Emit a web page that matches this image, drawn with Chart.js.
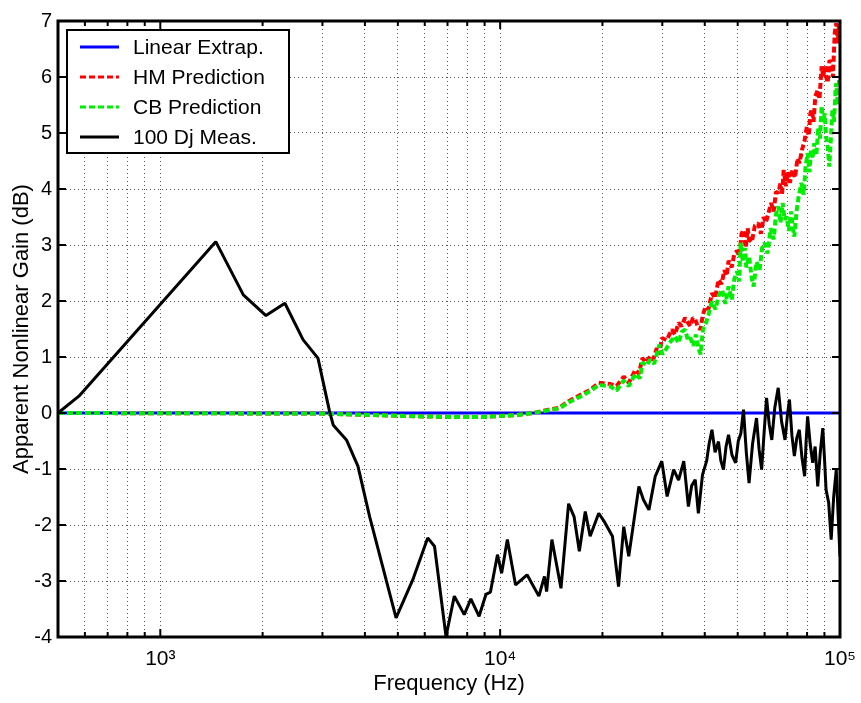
<!DOCTYPE html>
<html>
<head>
<meta charset="utf-8">
<script src="https://cdn.jsdelivr.net/npm/chart.js@4.4.1/dist/chart.umd.min.js"></script>
<style>
  body { margin: 0; background: #fff; }
  canvas { display: block; }
</style>
</head>
<body>
<canvas id="gain_chart" width="861" height="703"></canvas>
<script>
// values
const linFreq = [500, 100000];
const linGain = [0, 0];

const hmFreq = [500, 3000, 5000, 7000, 9000, 11000, 12500, 13900, 14900, 15900, 17300, 18500, 19500, 21000, 22000, 23100, 23900,
    25000, 25600, 26200, 26900, 27600, 28200, 28900, 29400, 29900, 30900, 32000, 32700, 33500, 34200, 35000, 35600, 36300, 36900, 37500, 38100, 38800, 39500,
    40200, 41000, 42000, 42900, 43900, 44800, 45700, 46400, 47000, 48000, 48900, 49800, 50600, 51300, 52000, 52800, 53500, 54000, 55000, 56200, 57500, 58500, 59600,
    60500, 61600, 62700, 63800, 64800, 65800, 66800, 67500, 68300, 69300, 70300, 71200, 72500, 73700, 75000, 76000, 77300, 78600, 79900,
    80900, 81800, 82600, 83600, 84600, 86000, 87000, 88300, 89300, 90200, 91000, 92000, 93100, 94200, 95300, 96500, 97500, 98500, 99300, 100000];
const hmGain = [0, -0.01, -0.05, -0.07, -0.07, -0.04, 0.0, 0.06, 0.09, 0.21, 0.33, 0.42, 0.54, 0.52, 0.48, 0.65, 0.54,
    0.77, 0.70, 0.98, 0.90, 1.01, 0.95, 1.16, 1.05, 1.34, 1.30, 1.49, 1.40, 1.61, 1.55, 1.70, 1.62, 1.55, 1.70, 1.67, 1.55, 1.49, 1.75,
    1.90, 1.85, 2.14, 2.05, 2.38, 2.30, 2.55, 2.45, 2.72, 2.60, 2.85, 2.89, 2.80, 3.20, 3.27, 2.95, 3.30, 3.10, 3.05, 3.35, 3.39, 3.20, 3.50,
    3.40, 3.57, 3.75, 3.60, 3.95, 3.93, 4.10, 3.90, 4.34, 4.05, 4.30, 4.11, 4.35, 4.20, 4.55, 4.46, 4.70, 4.85, 5.12,
    4.95, 5.35, 5.42, 5.20, 5.65, 5.77, 5.60, 6.19, 6.00, 6.20, 6.01, 5.90, 6.30, 6.25, 6.00, 6.79, 6.96, 6.60, 6.95, 7.0];

const cbFreq = [500, 3000, 5000, 7000, 9000, 11000, 12500, 13900, 14900, 15900, 17300, 18500, 19500, 21000, 22000, 23100, 23900,
    25000, 25800, 26200, 27000, 27600, 28400, 29400, 30000, 30500, 31500, 32700, 33500, 34200, 35000, 35700, 36300, 37000, 37700, 38300, 38900, 39500,
    40300, 41000, 42000, 43000, 44000, 45000, 46000, 47000, 48000, 48900, 49800, 50500, 51000, 51800, 52500, 53000, 54000, 55000, 55700, 56800, 58000, 59000,
    60000, 61200, 62500, 63800, 64800, 65800, 66800, 67800, 68700, 69700, 70700, 71800, 72600, 73400, 74500, 75500, 77000, 78200, 79200,
    80300, 81300, 82200, 83200, 84000, 85200, 86300, 87300, 88300, 89300, 90200, 91000, 92000, 93000, 94000, 95000, 96000, 97000, 97500, 98500, 99300, 100000];
const cbGain = [0, -0.01, -0.05, -0.07, -0.07, -0.04, 0.0, 0.05, 0.08, 0.19, 0.30, 0.40, 0.50, 0.48, 0.40, 0.58, 0.48,
    0.70, 0.62, 0.90, 0.85, 0.95, 0.88, 1.22, 1.05, 1.10, 1.25, 1.37, 1.25, 1.45, 1.49, 1.30, 1.34, 1.20, 1.40, 1.16, 1.05, 1.49,
    1.60, 1.75, 1.99, 1.85, 2.10, 2.20, 1.95, 2.26, 2.02, 2.40, 2.53, 2.35, 3.04, 2.70, 2.95, 2.60, 2.80, 2.40, 2.26, 2.70, 2.55, 2.95,
    3.04, 2.85, 3.30, 3.10, 3.55, 3.69, 3.40, 3.75, 3.45, 3.51, 3.25, 3.60, 3.30, 3.15, 3.60, 3.85, 4.11, 3.90, 4.40,
    4.64, 4.30, 4.70, 4.55, 4.82, 4.60, 5.10, 4.90, 5.48, 5.20, 5.35, 4.94, 4.75, 4.40, 4.90, 5.42, 5.20, 5.75, 5.89, 5.50, 5.95, 5.90];

const measFreq = [500, 576, 1456, 1755, 2046, 2326, 2630, 2910, 3150, 3230, 3530, 3815, 4130, 4940, 5530, 6120, 6410, 6930, 7330, 7840, 8200, 8670, 9080, 9360, 9820,
    10100, 10500, 11100, 12000, 13000, 13500, 13700, 14200, 15100, 15900, 16500, 17100, 17800, 18400, 19500, 20300, 21400, 22300, 23100, 23900, 25600, 26400, 27400, 28600, 29900,
    31000, 32400, 33500, 34700, 35800, 36600, 37500, 38300, 39400, 40500, 41200, 42000, 42900, 43900, 44600, 45400, 46200, 47000, 48100, 49300,
    50200, 51100, 52000, 53000, 54000, 55300, 56800, 57800, 58800, 59800, 60800, 61900, 63000, 64300, 65800, 67300, 68900, 70000, 71000, 72200, 73400, 74600, 75900, 77300, 78700, 79500,
    80300, 81700, 83100, 84500, 86000, 87500, 89000, 90000, 91000, 92600, 94200, 95800, 97500, 98700, 100000];
const measGain = [0, 0.30, 3.06, 2.11, 1.74, 1.96, 1.31, 0.98, 0.02, -0.22, -0.48, -0.95, -1.85, -3.66, -2.98, -2.23, -2.38, -3.99, -3.27, -3.60, -3.32, -3.63, -3.24, -3.20, -2.53,
    -2.86, -2.26, -3.07, -2.89, -3.27, -2.92, -3.19, -2.26, -3.13, -1.62, -1.85, -2.47, -1.76, -2.20, -1.79, -1.95, -2.20, -3.10, -2.03, -2.56, -1.31, -1.55, -1.73, -1.13, -0.86,
    -1.49, -1.01, -1.20, -0.86, -1.67, -1.30, -1.19, -1.79, -1.10, -0.86, -0.55, -0.30, -0.70, -0.51, -0.85, -1.01, -0.60, -0.39, -0.75, -0.89,
    -0.50, -0.36, 0.06, -0.70, -1.25, -0.55, -0.09, -0.65, -1.01, -0.35, 0.27, -0.20, -0.48, 0.10, 0.45, -0.15, -0.48, -0.05, 0.24, -0.40, -0.77, -0.45, -0.30, -0.80, -1.13, -0.50,
    -0.06, -0.55, -0.89, -0.60, -1.31, -0.70, -0.27, -0.80, -1.37, -1.60, -2.26, -1.50, -1.01, -1.80, -2.56];

const xGridValues = [600, 700, 800, 900, 1000, 2000, 3000, 4000, 5000, 6000, 7000, 8000, 9000, 10000, 20000, 30000, 40000, 50000, 60000, 70000, 80000, 90000, 100000];
const xTickLabels = { 1000: '10\u00b3', 10000: '10\u2074', 100000: '10\u2075' };

const FONT = "'Liberation Sans', Arial, Helvetica, sans-serif";

function to_points(xs, ys) {
    return xs.map((x, i) => ({ x: x, y: ys[i] }));
}

// frame, inner tick marks and the boxed legend, as matlab draws them
const matlab_axes = {
    id: 'matlab_axes',
    afterDraw(chart) {
        const ctx = chart.ctx;
        const a = chart.chartArea;
        const xs = chart.scales.x;
        const ys = chart.scales.y;
        ctx.save();
        ctx.strokeStyle = '#000';
        ctx.lineWidth = 2;
        xGridValues.forEach(v => {
            const px = xs.getPixelForValue(v);
            const len = xTickLabels[v] ? 8 : 5;
            ctx.beginPath();
            ctx.moveTo(px, a.bottom); ctx.lineTo(px, a.bottom - len);
            ctx.moveTo(px, a.top); ctx.lineTo(px, a.top + len);
            ctx.stroke();
        });
        for (let v = -3; v <= 6; v++) {
            const py = ys.getPixelForValue(v);
            ctx.beginPath();
            ctx.moveTo(a.left, py); ctx.lineTo(a.left + 8, py);
            ctx.moveTo(a.right, py); ctx.lineTo(a.right - 8, py);
            ctx.stroke();
        }
        ctx.lineWidth = 3;
        ctx.strokeRect(a.left, a.top, a.right - a.left, a.bottom - a.top);

        // legend
        const lx = a.left + 9, ly = a.top + 9, lw = 222, lh = 123;
        ctx.fillStyle = '#fff';
        ctx.fillRect(lx, ly, lw, lh);
        ctx.lineWidth = 2;
        ctx.strokeRect(lx, ly, lw, lh);
        ctx.font = '21px ' + FONT;
        ctx.textBaseline = 'middle';
        ctx.textAlign = 'left';
        chart.data.datasets.forEach((ds, i) => {
            const y = ly + 17 + i * 30;
            ctx.save();
            ctx.strokeStyle = ds.borderColor;
            ctx.lineWidth = 3;
            ctx.setLineDash(ds.borderDash || []);
            ctx.beginPath();
            ctx.moveTo(lx + 13, y); ctx.lineTo(lx + 52, y);
            ctx.stroke();
            ctx.restore();
            ctx.fillStyle = '#000';
            ctx.fillText(ds.label, lx + 66, y + 1);
        });
        ctx.restore();
    }
};

new Chart(document.getElementById('gain_chart'), {
    type: 'line',
    data: {
        datasets: [
            { label: 'Linear Extrap.', data: to_points(linFreq, linGain), borderColor: '#0000ff', borderWidth: 3, order: 4 },
            { label: 'HM Prediction', data: to_points(hmFreq, hmGain), borderColor: '#ff0000', borderWidth: 4, borderDash: [6, 3], order: 3 },
            { label: 'CB Prediction', data: to_points(cbFreq, cbGain), borderColor: '#00ee00', borderWidth: 4, borderDash: [6, 3], order: 2 },
            { label: '100 Dj Meas.', data: to_points(measFreq, measGain), borderColor: '#000000', borderWidth: 3, order: 1 }
        ]
    },
    options: {
        responsive: false,
        animation: false,
        devicePixelRatio: 1,
        layout: { padding: { top: 21, right: 21, left: 0, bottom: 0 } },
        elements: { point: { radius: 0 }, line: { tension: 0, borderJoinStyle: 'bevel' } },
        plugins: { legend: { display: false }, tooltip: { enabled: false } },
        scales: {
            x: {
                type: 'logarithmic',
                min: 500,
                max: 100000,
                afterBuildTicks: scale => { scale.ticks = xGridValues.map(v => ({ value: v })); },
                afterFit: scale => {
                    scale.height = 66;
                    scale.paddingLeft = 0;
                    scale.paddingRight = 0;
                },
                ticks: {
                    autoSkip: false,
                    maxRotation: 0,
                    padding: 10,
                    color: '#000',
                    font: { family: FONT, size: 21 },
                    callback: value => xTickLabels[value] || ''
                },
                grid: { color: '#555', lineWidth: 1, drawTicks: false },
                border: { display: false, dash: [1, 3] },
                title: { display: true, text: 'Frequency (Hz)', color: '#000', font: { family: FONT, size: 22 }, padding: { top: 0, bottom: 6 } }
            },
            y: {
                min: -4,
                max: 7,
                afterFit: scale => { scale.width = 58; },
                ticks: {
                    stepSize: 1,
                    padding: 6,
                    color: '#000',
                    font: { family: FONT, size: 20 }
                },
                grid: { color: '#555', lineWidth: 1, drawTicks: false },
                border: { display: false, dash: [1, 3] },
                title: { display: true, text: 'Apparent Nonlinear Gain (dB)', color: '#000', font: { family: FONT, size: 22 }, padding: { top: 9, bottom: 0 } }
            }
        }
    },
    plugins: [matlab_axes]
});
</script>
</body>
</html>
